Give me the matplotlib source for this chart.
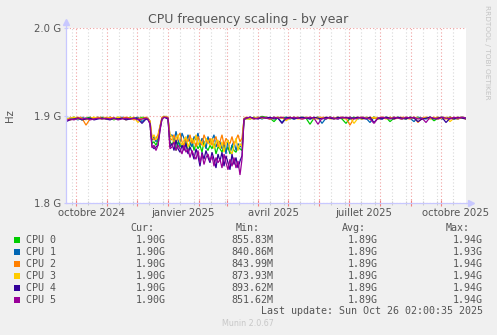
import matplotlib
matplotlib.use("Agg")
import matplotlib.pyplot as plt
import matplotlib.dates as mdates
import matplotlib.transforms as mtransforms
import pandas as pd
import numpy as np

# ---- data (MHz) ----
# early: every 4 days from day 0 to 80, mid: every 2 days from day 82 to 180,
# late: every 4 days from day 184 to 400
start = pd.Timestamp("2024-09-21")
end = pd.Timestamp("2025-10-26")
days_early = np.arange(0, 81, 4)
days_mid = np.arange(82, 181, 2)
days_late = np.arange(184, 401, 4)

cpu0_early = [1897, 1896, 1898, 1897, 1895, 1897, 1898, 1896, 1897, 1898, 1896, 1897, 1895, 1898, 1897, 1896, 1898, 1897, 1896, 1898, 1897]
cpu0_mid = [1896, 1892, 1868, 1870, 1866, 1872, 1886, 1897, 1899, 1898, 1897, 1870,
            1866, 1872, 1860, 1870, 1864, 1868, 1862, 1870, 1858, 1866, 1872, 1860,
            1868, 1862, 1866, 1858, 1870, 1864, 1860, 1866, 1862, 1868, 1856, 1864,
            1862, 1858, 1866, 1860, 1864, 1856, 1866, 1860, 1858, 1864, 1862, 1860,
            1896, 1897]
cpu0_late = [1896, 1898, 1897, 1899, 1898, 1897, 1893, 1898,
             1897, 1898, 1896, 1898, 1897, 1898, 1897, 1890, 1897, 1898,
             1897, 1896, 1898, 1897, 1898, 1896, 1891, 1897, 1898, 1897,
             1896, 1898, 1897, 1898, 1896, 1897, 1898, 1893, 1897, 1898,
             1897, 1896, 1898, 1897, 1898, 1896, 1897, 1898, 1894, 1897,
             1898, 1897, 1898, 1896, 1897, 1898, 1897]

cpu1_early = [1896, 1897, 1897, 1895, 1898, 1896, 1897, 1897, 1898, 1896, 1897, 1898, 1896, 1897, 1898, 1897, 1896, 1897, 1898, 1893, 1897]
cpu1_mid = [1897, 1893, 1872, 1876, 1870, 1874, 1887, 1897, 1898, 1899, 1897, 1876,
            1878, 1870, 1882, 1872, 1866, 1880, 1874, 1868, 1878, 1870, 1864, 1876,
            1872, 1880, 1866, 1874, 1870, 1862, 1876, 1868, 1872, 1878, 1864, 1870,
            1870, 1862, 1868, 1856, 1872, 1858, 1866, 1870, 1860, 1868, 1864, 1866,
            1897, 1896]
cpu1_late = [1898, 1897, 1898, 1896, 1898, 1897, 1898, 1897,
             1892, 1898, 1897, 1896, 1898, 1897, 1898, 1896, 1897, 1898,
             1891, 1897, 1898, 1897, 1896, 1898, 1897, 1898, 1897, 1896,
             1898, 1897, 1892, 1898, 1897, 1896, 1898, 1897, 1898, 1897,
             1896, 1898, 1897, 1893, 1898, 1897, 1896, 1898, 1897, 1898,
             1896, 1897, 1898, 1897, 1896, 1898, 1897]

cpu2_early = [1897, 1895, 1896, 1898, 1897, 1889, 1896, 1897, 1898, 1897, 1896, 1898, 1897, 1896, 1897, 1898, 1897, 1895, 1897, 1896, 1898]
cpu2_mid = [1896, 1894, 1875, 1872, 1874, 1878, 1888, 1898, 1899, 1898, 1898, 1874,
            1872, 1878, 1868, 1876, 1880, 1870, 1866, 1874, 1870, 1878, 1868, 1872,
            1864, 1876, 1870, 1866, 1878, 1872, 1868, 1874, 1866, 1872, 1876, 1864,
            1870, 1878, 1866, 1874, 1870, 1868, 1876, 1866, 1872, 1878, 1870, 1874,
            1896, 1898]
cpu2_late = [1897, 1896, 1898, 1897, 1898, 1896, 1897, 1898,
             1897, 1896, 1898, 1897, 1898, 1896, 1897, 1898, 1897, 1896,
             1898, 1897, 1898, 1896, 1897, 1898, 1897, 1889, 1897, 1898,
             1896, 1897, 1898, 1897, 1896, 1898, 1897, 1898, 1896, 1897,
             1898, 1897, 1896, 1898, 1892, 1897, 1898, 1896, 1897, 1898,
             1897, 1896, 1898, 1897, 1896, 1898, 1896]

cpu3_early = [1896, 1897, 1898, 1896, 1897, 1895, 1897, 1898, 1897, 1896, 1898, 1897, 1896, 1898, 1897, 1895, 1897, 1898, 1892, 1897, 1896]
cpu3_mid = [1897, 1893, 1874, 1878, 1872, 1876, 1886, 1897, 1898, 1899, 1897, 1878,
            1876, 1868, 1874, 1878, 1870, 1866, 1872, 1876, 1864, 1870, 1874, 1868,
            1878, 1866, 1872, 1868, 1864, 1874, 1870, 1866, 1874, 1862, 1870, 1872,
            1862, 1870, 1858, 1868, 1872, 1860, 1856, 1866, 1874, 1860, 1868, 1864,
            1897, 1896]
cpu3_late = [1896, 1898, 1897, 1898, 1897, 1896, 1898, 1897,
             1898, 1894, 1897, 1898, 1896, 1897, 1898, 1897, 1896, 1898,
             1897, 1898, 1896, 1897, 1898, 1897, 1896, 1898, 1891, 1897,
             1898, 1897, 1896, 1898, 1897, 1898, 1896, 1897, 1898, 1897,
             1896, 1898, 1897, 1898, 1897, 1896, 1898, 1897, 1898, 1896,
             1897, 1898, 1893, 1897, 1898, 1897, 1896]

cpu4_early = [1893, 1895, 1896, 1897, 1895, 1896, 1897, 1895, 1896, 1897, 1896, 1895, 1897, 1896, 1897, 1895, 1896, 1897, 1896, 1891, 1896]
cpu4_mid = [1895, 1891, 1865, 1862, 1864, 1866, 1884, 1896, 1898, 1897, 1896, 1864,
            1868, 1860, 1872, 1862, 1858, 1866, 1860, 1868, 1856, 1864, 1858, 1850,
            1862, 1854, 1842, 1858, 1850, 1860, 1852, 1846, 1858, 1850, 1840, 1856,
            1848, 1858, 1842, 1854, 1846, 1838, 1856, 1844, 1852, 1840, 1848, 1854,
            1895, 1897]
cpu4_late = [1898, 1897, 1896, 1898, 1897, 1898, 1896, 1897,
             1891, 1897, 1898, 1896, 1897, 1898, 1897, 1896, 1898, 1897,
             1896, 1898, 1897, 1896, 1898, 1897, 1898, 1896, 1897, 1898,
             1897, 1896, 1898, 1892, 1897, 1896, 1898, 1897, 1896, 1898,
             1897, 1896, 1898, 1897, 1893, 1896, 1897, 1898, 1896, 1897,
             1898, 1892, 1897, 1896, 1898, 1897, 1896]

cpu5_early = [1894, 1896, 1895, 1897, 1896, 1897, 1895, 1896, 1897, 1896, 1897, 1896, 1897, 1895, 1896, 1897, 1896, 1897, 1895, 1896, 1897]
cpu5_mid = [1896, 1890, 1863, 1866, 1860, 1866, 1883, 1896, 1898, 1898, 1897, 1862,
            1864, 1870, 1860, 1866, 1862, 1856, 1866, 1858, 1862, 1852, 1860, 1854,
            1850, 1860, 1846, 1856, 1844, 1852, 1856, 1848, 1854, 1842, 1852, 1846,
            1850, 1840, 1856, 1846, 1838, 1850, 1842, 1852, 1840, 1848, 1832, 1850,
            1896, 1897]
cpu5_late = [1898, 1896, 1897, 1898, 1897, 1896, 1898, 1897,
             1898, 1896, 1897, 1898, 1897, 1896, 1897, 1898, 1897, 1890,
             1897, 1896, 1898, 1897, 1896, 1898, 1897, 1898, 1896, 1897,
             1898, 1897, 1896, 1891, 1897, 1898, 1897, 1896, 1898, 1897,
             1896, 1898, 1897, 1898, 1896, 1897, 1892, 1898, 1897, 1896,
             1898, 1897, 1896, 1898, 1897, 1898, 1897]

names = ["CPU 0", "CPU 1", "CPU 2", "CPU 3", "CPU 4", "CPU 5"]
colors = ["#00CC00", "#0066B3", "#FF8000", "#FFCC00", "#330099", "#990099"]
cur_vals = ["1.90G"] * 6
min_vals = ["855.83M", "840.86M", "843.99M", "873.93M", "893.62M", "851.62M"]
avg_vals = ["1.89G"] * 6
max_vals = ["1.94G", "1.93G", "1.94G", "1.94G", "1.94G", "1.94G"]

yticks = [1.8e9, 1.9e9, 2.0e9]
ytick_labels = ["1.8 G", "1.9 G", "2.0 G"]
xlabel_dates = ["2024-10-16", "2025-01-16", "2025-04-16", "2025-07-16", "2025-10-16"]
xlabel_texts = ["octobre 2024", "janvier 2025", "avril 2025", "juillet 2025", "octobre 2025"]

series = [
    cpu0_early + cpu0_mid + cpu0_late,
    cpu1_early + cpu1_mid + cpu1_late,
    cpu2_early + cpu2_mid + cpu2_late,
    cpu3_early + cpu3_mid + cpu3_late,
    cpu4_early + cpu4_mid + cpu4_late,
    cpu5_early + cpu5_mid + cpu5_late,
]
days = np.concatenate([days_early, days_mid, days_late])
dates = start + pd.to_timedelta(days, unit="D")

W, H = 497, 335
BG = "#F0F0F0"
TXT = "#555555"
AXC = "#C8C8FF"


def px(x, y):
    return x / W, 1 - y / H


fig = plt.figure(figsize=(W / 100, H / 100), dpi=100, facecolor=BG)
ax = fig.add_axes([66 / W, 1 - 203 / H, 400 / W, 175 / H])
ax.set_facecolor("white")

for vals, c in zip(series, colors):
    n = min(len(vals), len(dates))
    ax.plot(dates[:n], np.array(vals[:n]) * 1e6, color=c, lw=0.9, solid_joinstyle="miter")

ax.set_xlim(start, end)
ax.set_ylim(1.8e9, 2.0e9)

# x grid: months (red) and fortnights (gray)
ax.xaxis.set_major_locator(mdates.MonthLocator())
ax.xaxis.set_minor_locator(mdates.DayLocator(bymonthday=[13, 27]))
ax.xaxis.set_major_formatter(plt.NullFormatter())
ax.grid(which="major", axis="x", color="#F0A0A0", linestyle=(0, (1, 2)), lw=0.8)
ax.grid(which="minor", axis="x", color="#D8D8D8", linestyle=(0, (1, 2)), lw=0.8)
ax.tick_params(axis="x", which="major", length=4, direction="inout", color="#F08080", width=0.8)
ax.tick_params(axis="x", which="minor", length=3, direction="inout", color="#CCCCCC", width=0.8)

ax.set_yticks(yticks)
ax.set_yticklabels(ytick_labels, fontsize=7.3, color=TXT)
ax.tick_params(axis="y", length=3, direction="inout", color=AXC, pad=2)
ax.grid(which="major", axis="y", color="#F0A0A0", linestyle=(0, (1, 2)), lw=0.8)

trans = mtransforms.blended_transform_factory(ax.transData, ax.transAxes)
for d, t in zip(xlabel_dates, xlabel_texts):
    ax.text(mdates.date2num(pd.Timestamp(d)), -0.055, t, transform=trans,
            ha="center", va="center", fontsize=7.3, color=TXT)

for s in ["top", "right"]:
    ax.spines[s].set_visible(False)
for s in ["left", "bottom"]:
    ax.spines[s].set_color(AXC)
    ax.spines[s].set_linewidth(0.9)
ax.plot([1.012], [0], marker=">", ms=4, color=AXC, transform=ax.transAxes, clip_on=False)
ax.plot([0], [1.035], marker="^", ms=4, color=AXC, transform=ax.transAxes, clip_on=False)
ax.plot([0, 0], [1, 1.03], color=AXC, lw=0.9, transform=ax.transAxes, clip_on=False)
ax.plot([1, 1.01], [0, 0], color=AXC, lw=0.9, transform=ax.transAxes, clip_on=False)

fig.text(*px(248, 19), "CPU frequency scaling - by year", ha="center", va="center",
         fontsize=9.0, color=TXT)
fig.text(*px(10, 116), "Hz", ha="center", va="center", rotation=90, fontsize=7.3, color=TXT)
fig.text(*px(487, 52), "RRDTOOL / TOBI OETIKER", ha="center", va="center", rotation=270,
         fontsize=5.3, color="#C4C4C4")

mono = dict(family="DejaVu Sans Mono", fontsize=7.2, color=TXT, va="center")
fig.text(*px(154, 228), "Cur:", ha="right", **mono)
fig.text(*px(260, 228), "Min:", ha="right", **mono)
fig.text(*px(366, 228), "Avg:", ha="right", **mono)
fig.text(*px(470, 228), "Max:", ha="right", **mono)

for i, name in enumerate(names):
    y = 240 + i * 12
    fig.patches.append(plt.Rectangle(px(14, y + 3), 6 / W, 6 / H, transform=fig.transFigure,
                                     facecolor=colors[i], edgecolor="none"))
    fig.text(*px(26, y), name, ha="left", **mono)
    fig.text(*px(166, y), cur_vals[i], ha="right", **mono)
    fig.text(*px(273, y), min_vals[i], ha="right", **mono)
    fig.text(*px(378, y), avg_vals[i], ha="right", **mono)
    fig.text(*px(483, y), max_vals[i], ha="right", **mono)

fig.text(*px(483, 311), "Last update: Sun Oct 26 02:00:35 2025", ha="right", **mono)
fig.text(*px(248, 324), "Munin 2.0.67", ha="center", va="center", fontsize=5.8, color="#C8C8C8")

fig.savefig("out.png", dpi=100, facecolor=BG)
